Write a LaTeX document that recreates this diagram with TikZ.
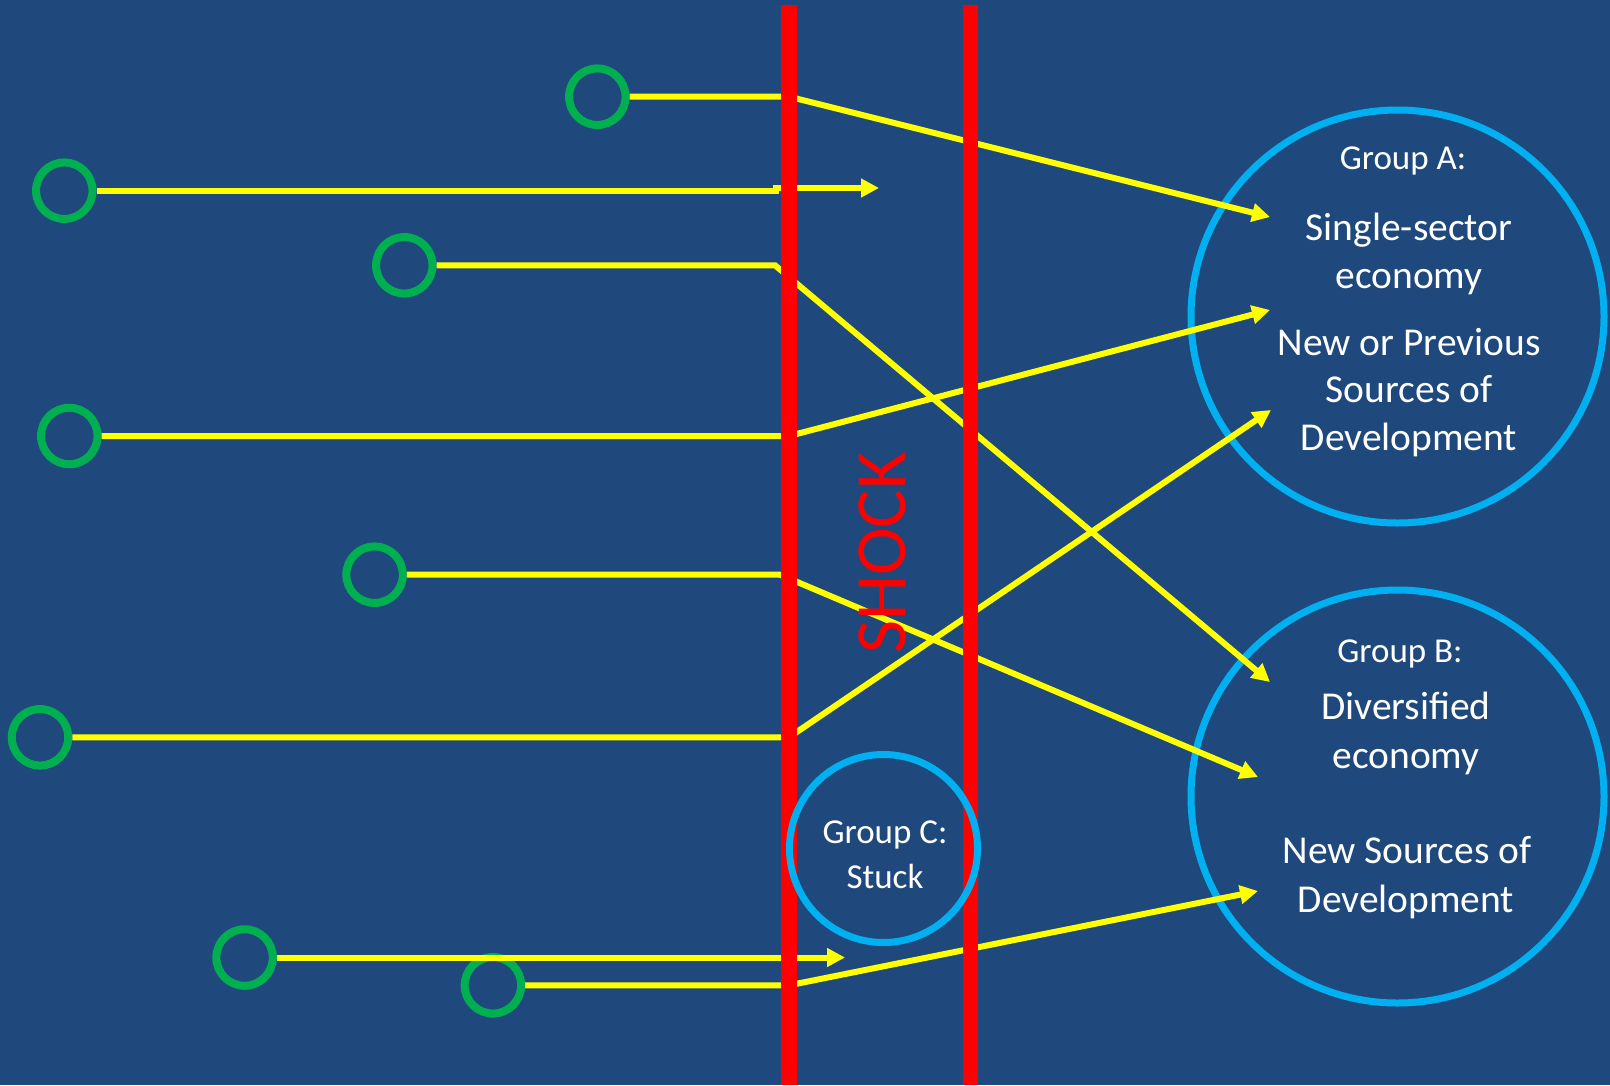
\documentclass[tikz,border=0pt]{standalone}
\usepackage{fontspec}
\setmainfont{Carlito}
\usetikzlibrary{arrows.meta}
\definecolor{bgblue}{RGB}{31,73,125}
\definecolor{ringblue}{RGB}{0,176,240}
\definecolor{dotgreen}{RGB}{0,176,80}
\definecolor{lineyellow}{RGB}{255,255,0}
\definecolor{shockred}{RGB}{255,0,0}
\begin{document}
\begin{tikzpicture}[x=1bp,y=-1bp,
  dot/.style={circle,draw=dotgreen,line width=8bp,minimum size=56.5bp,inner sep=0pt},
  conn/.style={draw=lineyellow,line width=6bp,line join=miter},
  tip/.style={-{Triangle[length=18bp,width=18bp]}},
  redbar/.style={draw=shockred,line width=15.7bp},
  grpring/.style={circle,draw=ringblue,line width=7bp,inner sep=0pt},
  bigtxt/.style={text=white,anchor=base,inner sep=0pt,font=\fontsize{39.5bp}{48bp}\selectfont},
  headtxt/.style={text=white,anchor=base,inner sep=0pt,font=\fontsize{35bp}{42bp}\selectfont}]
\useasboundingbox (0,0) rectangle (1610,1085);
\fill[bgblue] (0,0) rectangle (1610,1085);

% group rings A and B (under the yellow arrows)
\node[grpring,minimum size=413bp] (ringA) at (1397.5,316.5) {};
\node[grpring,minimum size=413bp] (ringB) at (1397.5,796.5) {};

% green starting points
\node[dot] (g1) at (597.3,96.7) {};
\node[dot] (g2) at (64.3,190.7) {};
\node[dot] (g3) at (404.3,265.3) {};
\node[dot] (g4) at (69.3,436) {};
\node[dot] (g5) at (374.6,574.7) {};
\node[dot] (g6) at (40,737.3) {};
\node[dot] (g7) at (244.6,957.5) {};
\node[dot] (g8) at (492.9,985.3) {};

% bend points and arrow ends
\coordinate (b1) at (789,96.7);   \coordinate (t1) at (1270,217);
\coordinate (b2) at (776,190.7);  \coordinate (t2) at (879,188);
\coordinate (b3) at (775,265.3);  \coordinate (t3) at (1270,682);
\coordinate (b4) at (789,436);    \coordinate (t4) at (1270,310);
\coordinate (b5) at (780,574.7);  \coordinate (t5) at (1258,777);
\coordinate (b6) at (789,737.3);  \coordinate (t6) at (1271,410);
\coordinate (t7) at (845,957.5);
\coordinate (b8) at (789,985.3);  \coordinate (t8) at (1258,891);

% yellow connectors
\draw[conn,tip] (g1) -- (b1) -- (t1);
\draw[conn,tip] (g2) -- (b2) |- (t2);
\draw[conn,tip] (g3) -- (b3) -- (t3);
\draw[conn,tip] (g4) -- (b4) -- (t4);
\draw[conn,tip] (g5) -- (b5) -- (t5);
\draw[conn,tip] (g6) -- (b6) -- (t6);
\draw[conn,tip] (g7) -- (t7);
\draw[conn,tip] (g8) -- (b8) -- (t8);

% shock bars
\draw[redbar] (789.2,5) -- (789.2,1085);
\draw[redbar] (970.5,5) -- (970.5,1085);

\node[text=shockred,anchor=base,inner sep=0pt,rotate=90,
      font=\fontsize{72bp}{86bp}\selectfont] (shock) at (905,553) {SHOCK};

% group C ring (over the bars)
\node[grpring,minimum size=188bp] (ringC) at (883.5,848.5) {};

% group A texts
\node[headtxt] (a0) at (1403,169) {Group A:};
\node[bigtxt] (a1) at (1409,240) {Single-sector};
\node[bigtxt] (a2) at (1409,288) {economy};
\node[bigtxt] (a3) at (1409,355) {New or Previous};
\node[bigtxt] (a4) at (1409,402) {Sources of};
\node[bigtxt] (a5) at (1409,450) {Development};

% group B texts
\node[headtxt] (bt0) at (1400,662) {Group B:};
\node[bigtxt] (bt1) at (1406,719) {Diversified};
\node[bigtxt] (bt2) at (1406,768) {economy};
\node[bigtxt] (bt3) at (1407,863) {New Sources of};
\node[bigtxt] (bt4) at (1406,912) {Development};

% group C texts
\node[headtxt] (c0) at (885,843.5) {Group C:};
\node[headtxt] (c1) at (885,888.5) {Stuck};
\end{tikzpicture}
\end{document}
